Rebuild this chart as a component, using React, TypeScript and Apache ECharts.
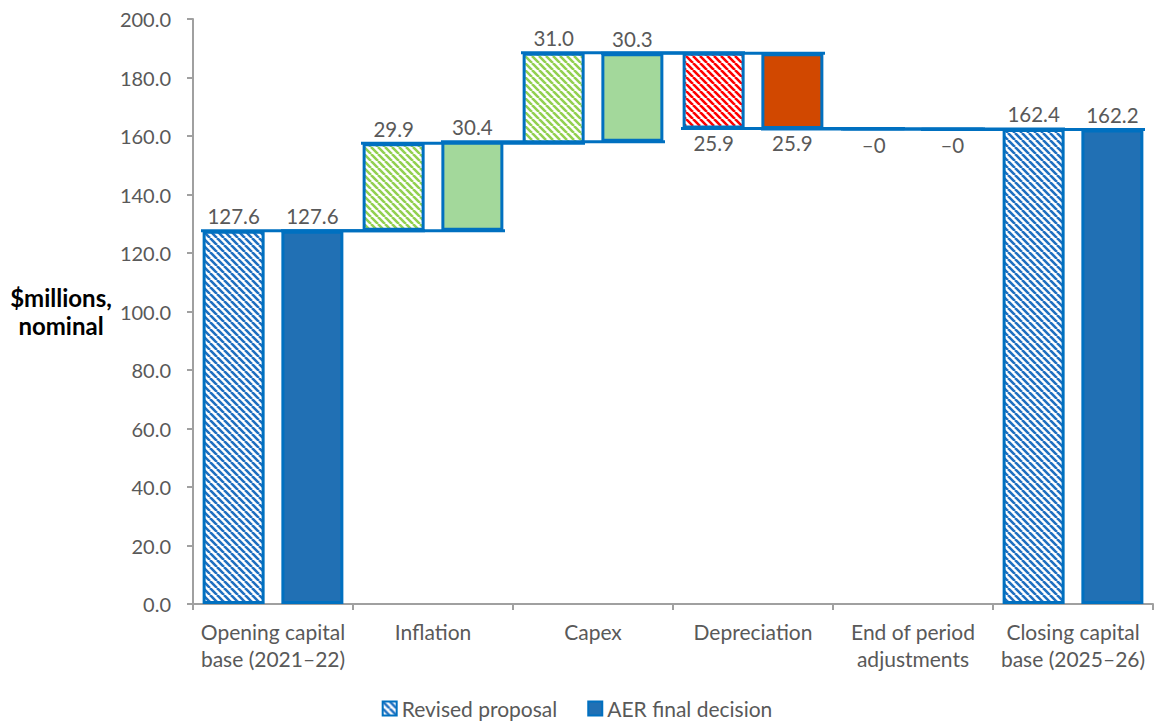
import React, { useEffect, useRef } from "react";
import * as echarts from "echarts";

const categories = [
  "Opening capital\nbase (2021–22)",
  "Inflation",
  "Capex",
  "Depreciation",
  "End of period\nadjustments",
  "Closing capital\nbase (2025–26)",
];
const revisedValues = [127.6, 29.9, 31.0, -25.9, -0.2, 162.4];
const aerValues = [127.6, 30.4, 30.3, -25.9, -0.2, 162.2];
const revisedLabels = ["127.6", "29.9", "31.0", "25.9", "–0", "162.4"];
const aerLabels = ["127.6", "30.4", "30.3", "25.9", "–0", "162.2"];
const kinds = ["blue", "green", "green", "red", "red", "blue"];
const yMin = 0;
const yMax = 200;
const yInterval = 20;

const FONT = "Lato";
const BORDER = "#0070c0";
const solidColors: Record<string, string> = { blue: "#2170b4", green: "#a3d89b", red: "#d14800" };
const stripeColors: Record<string, string> = { blue: "#1f6fc0", green: "#92d050", red: "#ff0000" };

function makePattern(color: string) {
  const s = 7;
  const c = document.createElement("canvas");
  c.width = s;
  c.height = s;
  const ctx = c.getContext("2d")!;
  ctx.fillStyle = "#ffffff";
  ctx.fillRect(0, 0, s, s);
  ctx.strokeStyle = color;
  ctx.lineWidth = 2.6;
  ctx.beginPath();
  for (const k of [-s, 0, s]) {
    ctx.moveTo(k, 0);
    ctx.lineTo(k + s, s);
  }
  ctx.stroke();
  return { image: c, repeat: "repeat" } as any;
}

function waterfall(vals: number[]) {
  let level = 0;
  const bases: number[] = [];
  const heights: number[] = [];
  const ends: number[] = [];
  vals.forEach((v, i) => {
    if (i === 0 || i === vals.length - 1) {
      bases.push(0);
      heights.push(v);
      level = v;
    } else {
      const start = level;
      const end = level + v;
      bases.push(Math.min(start, end));
      heights.push(Math.abs(v));
      level = end;
    }
    ends.push(level);
  });
  return { bases, heights, ends };
}

export default function App() {
  const ref = useRef<HTMLDivElement>(null);
  useEffect(() => {
    document.body.style.margin = "0";
    const chart = echarts.init(ref.current!, null, { renderer: "svg" });
    const rev = waterfall(revisedValues);
    const aer = waterfall(aerValues);
    const patterns: Record<string, any> = {
      blue: makePattern(stripeColors.blue),
      green: makePattern(stripeColors.green),
      red: makePattern(stripeColors.red),
    };
    const labelBase = { show: true, color: "#595959", fontSize: 20.5, fontFamily: FONT, distance: 4 };
    const barCommon = { type: "bar", barWidth: 62, barGap: "27%", barCategoryGap: "10%" };

    const visData = (w: ReturnType<typeof waterfall>, vals: number[], labels: string[], hatched: boolean) =>
      w.heights.map((h, i) => ({
        value: h,
        itemStyle: {
          color: hatched ? patterns[kinds[i]] : solidColors[kinds[i]],
          borderColor: BORDER,
          borderWidth: 3,
        },
        label: {
          ...labelBase,
          position: vals[i] < 0 ? "bottom" : "top",
          formatter: labels[i],
        },
      }));

    const connectorData = (ends: number[], off: number) =>
      ends.slice(0, ends.length - 1).map((lvl, i) => [i, lvl, off]);

    const renderConnector = (params: any, api: any) => {
      const i = api.value(0);
      const lvl = api.value(1);
      const off = api.value(2);
      const p1 = api.coord([i, lvl]);
      const p2 = api.coord([i + 1, lvl]);
      const bw = api.size([1, 0])[0];
      const x1 = p1[0] + off * bw * 0.25 - bw * 0.2;
      const x2 = p2[0] + off * bw * 0.25 + bw * 0.2;
      return {
        type: "line",
        shape: { x1, y1: p1[1], x2, y2: p1[1] },
        style: { stroke: BORDER, lineWidth: 3 },
      };
    };

    chart.setOption({
      animation: false,
      textStyle: { fontFamily: FONT },
      grid: { left: 193, right: 1, top: 19, bottom: 118, containLabel: false },
      legend: {
        data: ["Revised proposal", "AER final decision"],
        top: 693,
        left: "center",
        itemWidth: 14,
        itemHeight: 14,
        itemGap: 30,
        icon: "rect",
        textStyle: { color: "#595959", fontSize: 21, fontFamily: FONT },
      },
      xAxis: {
        type: "category",
        data: categories,
        axisLine: { lineStyle: { color: "#a0a0a0", width: 2 } },
        axisTick: { show: true, length: 6, lineStyle: { color: "#a0a0a0", width: 2 } },
        axisLabel: { interval: 0, color: "#595959", fontSize: 21, lineHeight: 27, margin: 14, fontFamily: FONT },
      },
      yAxis: {
        type: "value",
        min: yMin,
        max: yMax,
        interval: yInterval,
        splitLine: { show: false },
        axisLine: { show: true, lineStyle: { color: "#a0a0a0", width: 2 } },
        axisTick: { show: true, length: 6, lineStyle: { color: "#a0a0a0", width: 2 } },
        axisLabel: {
          color: "#595959",
          fontSize: 20,
          margin: 22,
          fontFamily: FONT,
          formatter: (v: number) => v.toFixed(1),
        },
      },
      graphic: [
        {
          type: "text",
          x: 61,
          y: 311,
          style: {
            text: "$millions,\nnominal",
            fill: "#000000",
            font: `bold 24px ${FONT}`,
            align: "center",
            verticalAlign: "middle",
            lineHeight: 28,
          },
        },
      ],
      series: [
        {
          type: "custom",
          name: "connRev",
          renderItem: renderConnector,
          data: connectorData(rev.ends, -1),
          encode: { x: 0, y: 1 },
          silent: true,
          z: 1,
        },
        {
          type: "custom",
          name: "connAer",
          renderItem: renderConnector,
          data: connectorData(aer.ends, 1),
          encode: { x: 0, y: 1 },
          silent: true,
          z: 1,
        },
        {
          ...barCommon,
          name: "baseRev",
          stack: "rev",
          data: rev.bases,
          itemStyle: { color: "transparent" },
          silent: true,
        },
        {
          ...barCommon,
          name: "Revised proposal",
          stack: "rev",
          z: 3,
          itemStyle: { color: patterns.blue, borderColor: BORDER, borderWidth: 2 },
          data: visData(rev, revisedValues, revisedLabels, true),
        },
        {
          ...barCommon,
          name: "baseAer",
          stack: "aer",
          data: aer.bases,
          itemStyle: { color: "transparent" },
          silent: true,
        },
        {
          ...barCommon,
          name: "AER final decision",
          stack: "aer",
          z: 3,
          itemStyle: { color: solidColors.blue, borderColor: BORDER, borderWidth: 2 },
          data: visData(aer, aerValues, aerLabels, false),
        },
      ],
    });
    return () => chart.dispose();
  }, []);
  return <div ref={ref} style={{ width: 1154, height: 722 }} />;
}
